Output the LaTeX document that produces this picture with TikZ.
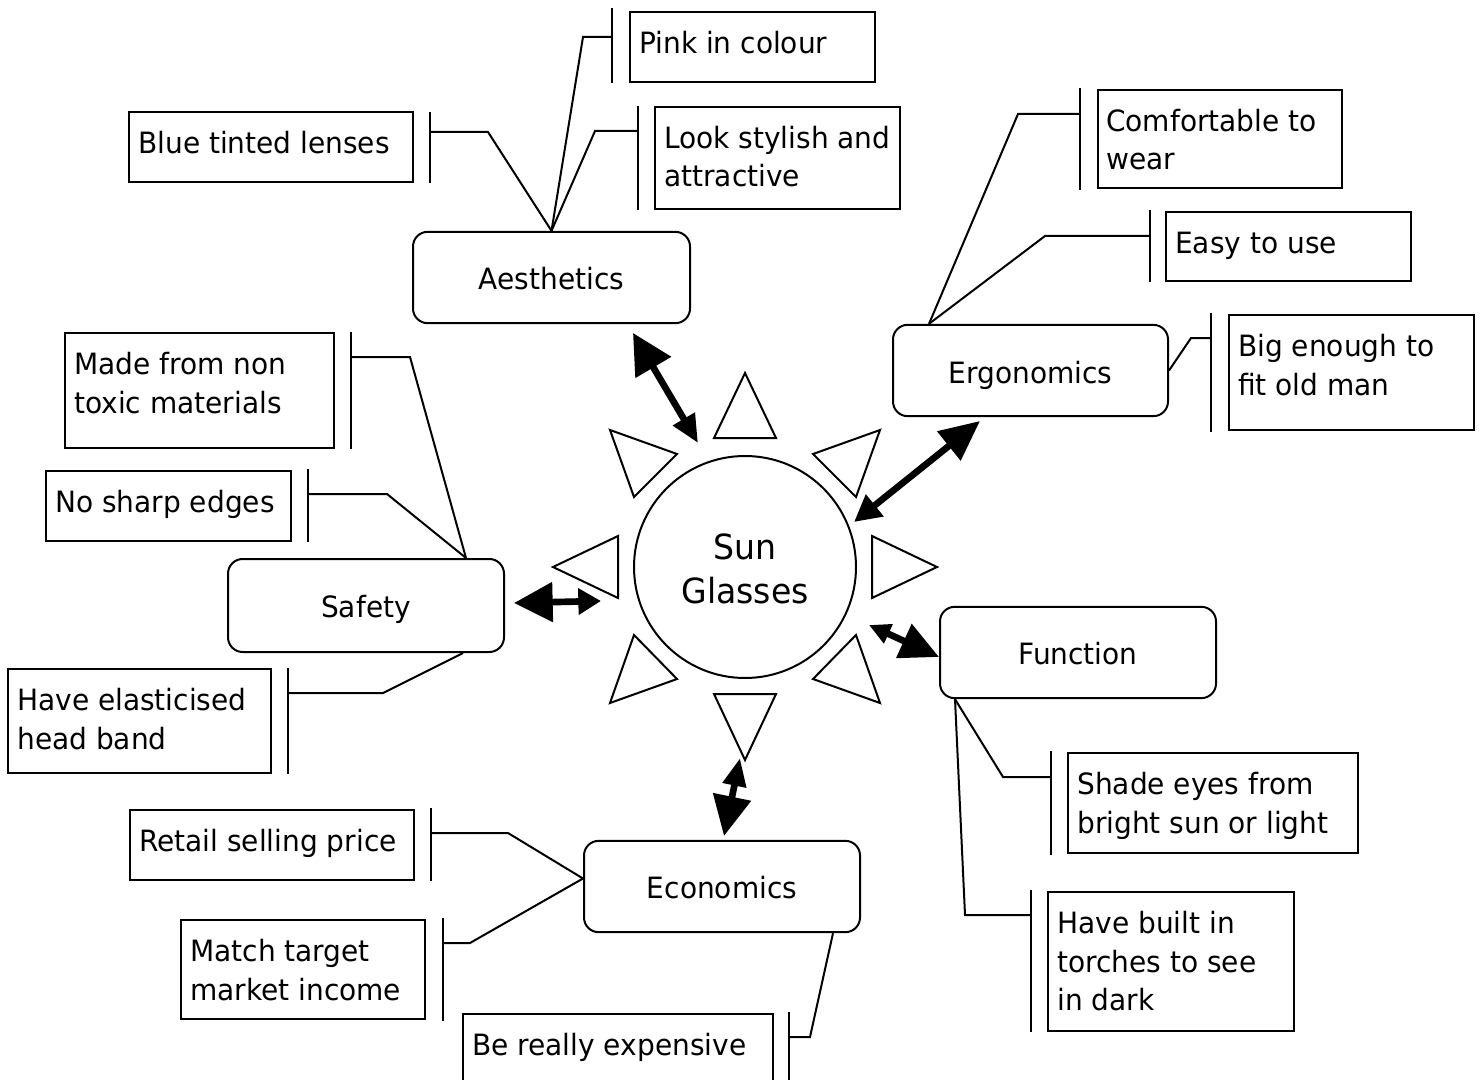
\documentclass[tikz,border=0pt]{standalone}
\usepackage{fontspec}
\setmainfont{DejaVu Sans}[FakeStretch=0.955]
\usetikzlibrary{arrows.meta,calc}
\newcommand\leaffont{\fontsize{22}{29}\selectfont}
\newcommand\sunfont{\fontsize{26}{33}\selectfont}
\newcommand\callout[6]{%
  \draw[thinline] (#1,#2) -- (#1,#3);
  \draw[thinline] (#1,#4) -- (#5,#4) -- (#6);}
\tikzset{
  thinline/.style={line width=1.5pt, line join=miter},
  leaf/.style n args={4}{draw, line width=1.5pt, anchor=north west, inner sep=0pt, outer sep=0pt,
     minimum width={(#3-#1)*0.75pt}, minimum height={(#4-#2)*0.75pt}, at={(#1,#2)}},
  txt/.style={anchor=north west, inner sep=0pt, align=left, font=\leaffont},
  cat/.style={draw, rounded corners=11pt, line width=1.5pt, minimum width=207pt, minimum height=68.5pt, inner sep=0pt, font=\leaffont},
  catlabel/.style={inner sep=0pt, font=\leaffont, text height=16pt, text depth=0pt},
  ray/.style={draw, fill=white, line width=1.5pt, line join=miter},
  bigarrow/.style={line width=5pt},
}
\begin{document}
\begin{tikzpicture}[x=0.75pt, y=-0.75pt]
\clip (0,0) rectangle (1483,1080);
\fill[white] (0,0) rectangle (1483,1080);

% sun
\node[draw, circle, line width=1.5pt, minimum size=166.5pt, inner sep=0pt] (sun) at (745,567) {};
\node[align=center, font=\sunfont, inner sep=0pt] (sunT) at (745,569) {Sun\\Glasses};
\draw[ray] (714,438) -- (776,438) -- (745,373) -- cycle;
\draw[ray] (714,694) -- (776,694) -- (745,760) -- cycle;
\draw[ray] (553,567) -- (618,536) -- (618,598) -- cycle;
\draw[ray] (937,567) -- (872,536) -- (872,598) -- cycle;
\draw[ray] (610,430) -- (677,454) -- (634,497) -- cycle;
\draw[ray] (880,430) -- (813,454) -- (856,497) -- cycle;
\draw[ray] (634,635) -- (677,679) -- (610,703) -- cycle;
\draw[ray] (856,635) -- (813,679) -- (880,703) -- cycle;

% categories
\node[cat, minimum width=207.75pt] (aes) at (551.5,277.5) {};
\node[cat, minimum width=206.25pt] (ergo) at (1030.5,370.5) {};
\node[cat, minimum height=69.75pt] (safe) at (366,605.5) {};
\node[cat] (func) at (1078,652.5) {};
\node[cat] (eco) at (722,886.5) {};
\node[catlabel] (aesT) at ($(aes.center)+(0,1.5)$) {Aesthetics};
\node[catlabel] (ergoT) at ($(ergo.center)+(0,2)$) {Ergonomics};
\node[catlabel] (safeT) at ($(safe.center)+(0,1.5)$) {Safety};
\node[catlabel] (funcT) at ($(func.center)+(0,1.5)$) {Function};
\node[catlabel] (ecoT) at ($(eco.center)+(0,1.5)$) {Economics};

% anchor points on categories
\coordinate (ergoA) at ($(ergo.north west)+(37,0)$);
\coordinate (safeA) at ($(safe.north)+(100,0)$);
\coordinate (safeB) at ($(safe.south)+(97,0)$);
\coordinate (ecoA) at ($(eco.west)+(0,-8)$);
\coordinate (ecoB) at ($(eco.south)+(111,0)$);
\coordinate (funcA) at ($(func.south west)+(16,0)$);

% leaves
\node[leaf={630}{12}{875}{82}] (pink) {};
\node[txt] (pinkT) at ([shift={(9,14)}]pink.north west) {\strut Pink in colour};
\node[leaf={655}{107}{900}{209}] (look) {};
\node[txt] (lookT) at ([shift={(9,14)}]look.north west) {\strut Look stylish and\\attractive};
\node[leaf={129}{112}{413}{182}] (blue) {};
\node[txt] (blueT) at ([shift={(9,14)}]blue.north west) {\strut Blue tinted lenses};
\node[leaf={1098}{90}{1342}{188}] (comf) {};
\node[txt] (comfT) at ([shift={(8,14)}]comf.north west) {\strut Comfortable to\\wear};
\node[leaf={1166}{212}{1411}{281}] (easy) {};
\node[txt] (easyT) at ([shift={(9,14)}]easy.north west) {\strut Easy to use};
\node[leaf={1229}{315}{1474}{430}] (big) {};
\node[txt] (bigT) at ([shift={(9,14)}]big.north west) {\strut Big enough to\\fit old man};
\node[leaf={65}{333}{334}{448}] (made) {};
\node[txt] (madeT) at ([shift={(9,14)}]made.north west) {\strut Made from non\\toxic materials};
\node[leaf={46}{471}{291}{541}] (sharp) {};
\node[txt] (sharpT) at ([shift={(9,14)}]sharp.north west) {\strut No sharp edges};
\node[leaf={8}{669}{271}{773}] (elas) {};
\node[txt] (elasT) at ([shift={(9,14)}]elas.north west) {\strut Have elasticised\\head band};
\node[leaf={130}{810}{414}{880}] (retail) {};
\node[txt] (retailT) at ([shift={(9,14)}]retail.north west) {\strut Retail selling price};
\node[leaf={181}{920}{425}{1019}] (match) {};
\node[txt] (matchT) at ([shift={(9,14)}]match.north west) {\strut Match target\\market income};
\node[leaf={463}{1014}{773}{1095}] (exp) {};
\node[txt] (expT) at ([shift={(9,14)}]exp.north west) {\strut Be really expensive};
\node[leaf={1068}{753}{1358}{853}] (shade) {};
\node[txt] (shadeT) at ([shift={(9,14)}]shade.north west) {\strut Shade eyes from\\bright sun or light};
\node[leaf={1048}{892}{1294}{1031}] (built) {};
\node[txt] (builtT) at ([shift={(9,14)}]built.north west) {\strut Have built in\\torches to see\\in dark};

% callouts
\callout{612}{8}{83}{37}{583}{aes.north}
\callout{638}{106}{210}{131}{595}{aes.north}
\callout{430}{112}{183}{132}{488}{aes.north}
\callout{1080}{88}{190}{114}{1018}{ergoA}
\callout{1150}{210}{282}{236}{1045}{ergoA}
\callout{1211}{313}{432}{338}{1191}{ergo.east}
\callout{351}{332}{449}{357}{410}{safeA}
\callout{308}{469}{542}{494}{387}{safeA}
\callout{288}{668}{774}{693}{383}{safeB}
\callout{431}{808}{881}{833}{508}{ecoA}
\callout{443}{918}{1021}{943}{470}{ecoA}
\callout{789}{1012}{1085}{1037}{810}{ecoB}
\callout{1051}{751}{855}{777}{1003}{funcA}
\callout{1031}{890}{1032}{915}{965}{funcA}

% arrows
\coordinate (aesA) at (633,333); \coordinate (aesB) at (698,443);
\coordinate (ergA) at (980,421); \coordinate (ergB) at (854,522);
\coordinate (safA) at (514,603); \coordinate (safC) at (601,601);
\coordinate (funA) at (869,625); \coordinate (funB) at (939,657);
\coordinate (ecoC) at (740,758); \coordinate (ecoD) at (724,836);
\draw[bigarrow, {Triangle[length=30pt,width=30pt]}-{Triangle[length=21pt,width=18pt]}] (aesA) -- (aesB);
\draw[bigarrow, {Triangle[length=30pt,width=27pt]}-{Triangle[length=20pt,width=20pt]}] (ergA) -- (ergB);
\draw[bigarrow, {Triangle[length=29pt,width=29pt]}-{Triangle[length=17pt,width=19pt]}] (safA) -- (safC);
\draw[bigarrow, {Triangle[length=16pt,width=15pt]}-{Triangle[length=29pt,width=27pt]}] (funA) -- (funB);
\draw[bigarrow, {Triangle[length=21pt,width=17pt]}-{Triangle[length=30pt,width=28pt]}] (ecoC) -- (ecoD);
\end{tikzpicture}
\end{document}
